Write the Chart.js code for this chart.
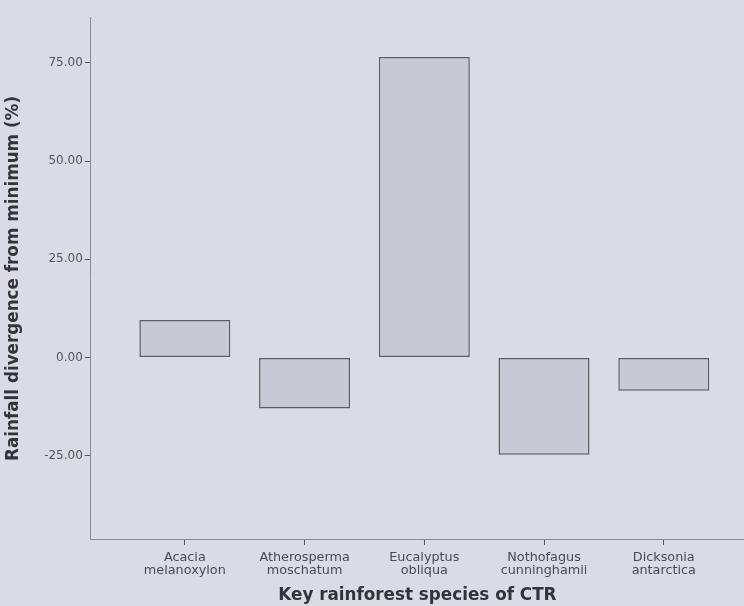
<!DOCTYPE html>
<html>
<head>
<meta charset="utf-8">
<script src="https://cdn.jsdelivr.net/npm/chart.js@4/dist/chart.umd.min.js"></script>
<style>
  html, body { margin: 0; padding: 0; background: #d9dce5; overflow: hidden; }
  #wrap { width: 744px; height: 606px; position: relative; }
</style>
</head>
<body>
<div id="wrap"><canvas id="chart"></canvas></div>
<script>
// species on the x axis, two lines each
var species = [
	["Acacia", "melanoxylon"],
	["Atherosperma", "moschatum"],
	["Eucalyptus", "obliqua"],
	["Nothofagus", "cunninghamii"],
	["Dicksonia", "antarctica"]
];
var divergence = [9.5, -13, 76.5, -24.8, -8.5];
var yTicks = [-25, 0, 25, 50, 75];

var points = divergence.map(function (v, i) {
	return { x: i, y: v };
});

var font = "'DejaVu Sans', sans-serif";

new Chart(document.getElementById("chart"), {
	type: "bar",
	data: {
		datasets: [
			{
				data: points,
				backgroundColor: "#c7cad4",
				borderColor: "#5c5c62",
				borderWidth: 1.5,
				borderSkipped: false,
				barPercentage: 0.76,
				categoryPercentage: 1
			}
		]
	},
	options: {
		responsive: true,
		maintainAspectRatio: false,
		animation: false,
		layout: { padding: { left: 4, top: 17, right: 0, bottom: 0 } },
		plugins: { legend: { display: false }, tooltip: { enabled: false } },
		scales: {
			x: {
				type: "linear",
				offset: false,
				min: -0.785,
				max: 4.67,
				afterBuildTicks: function (scale) {
					scale.ticks = species.map(function (s, i) {
						return { value: i };
					});
				},
				ticks: {
					autoSkip: false,
					maxRotation: 0,
					color: "#4a4a50",
					font: { family: font, size: 12.8, lineHeight: 1.05 },
					padding: 6,
					callback: function (v) {
						return species[v];
					}
				},
				grid: {
					offset: false,
					drawOnChartArea: false,
					drawTicks: true,
					tickLength: 5,
					color: "#55555a"
				},
				border: { color: "#8a8b92", width: 1 },
				title: {
					display: true,
					text: "Key rainforest species of CTR",
					color: "#333338",
					font: { family: font, size: 16.8, weight: "bold" },
					padding: { top: 2, bottom: 0 }
				}
			},
			y: {
				min: -46.5,
				max: 86.7,
				afterBuildTicks: function (scale) {
					scale.ticks = yTicks.map(function (v) {
						return { value: v };
					});
				},
				ticks: {
					color: "#55555a",
					font: { family: font, size: 12 },
					padding: 2,
					callback: function (v) {
						return v.toFixed(2);
					}
				},
				grid: {
					drawOnChartArea: false,
					drawTicks: true,
					tickLength: 6,
					color: "#55555a"
				},
				border: { color: "#8a8b92", width: 1 },
				title: {
					display: true,
					text: "Rainfall divergence from minimum (%)",
					color: "#333338",
					font: { family: font, size: 16.8, weight: "bold" },
					padding: { top: 0, bottom: 18 }
				}
			}
		}
	}
});
</script>
</body>
</html>
